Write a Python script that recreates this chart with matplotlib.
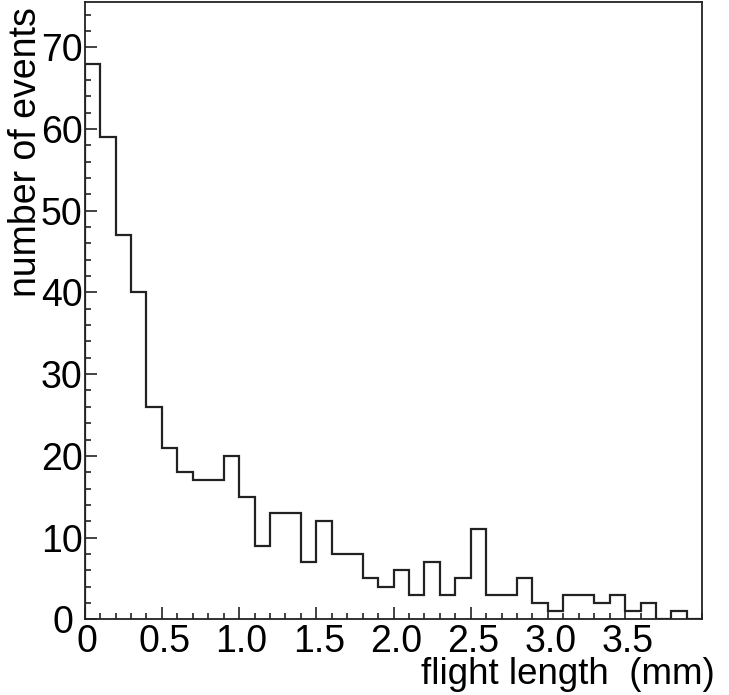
import matplotlib
matplotlib.use("Agg")
import matplotlib.pyplot as plt
from matplotlib.ticker import MultipleLocator, FixedLocator, FixedFormatter
from matplotlib.transforms import ScaledTranslation
import numpy as np

plt.rcParams['font.family'] = ['Liberation Sans', 'DejaVu Sans']

# Histogram data: 40 bins of 0.1 mm from 0 to 4.0 mm
bin_low = 0.0
bin_high = 4.0
n_bins = 40
counts = [68, 59, 47, 40, 26, 21, 18, 17, 17, 20,
          15, 9, 13, 13, 7, 12, 8, 8, 5, 4,
          6, 3, 7, 3, 5, 11, 3, 3, 5, 2,
          1, 3, 3, 2, 3, 1, 2, 0, 1, 0]
x_ticks = [0, 0.5, 1.0, 1.5, 2.0, 2.5, 3.0, 3.5]
x_tick_labels = ["0", "0.5", "1.0", "1.5", "2.0", "2.5", "3.0", "3.5"]
y_ticks = [0, 10, 20, 30, 40, 50, 60, 70]
y_tick_labels = ["0", "10", "20", "30", "40", "50", "60", "70"]
x_label = "flight length  (mm)"
y_label = "number of events"

edges = np.linspace(bin_low, bin_high, n_bins + 1)

fig = plt.figure(figsize=(7.29, 6.95), dpi=100)
ax = fig.add_axes([0.1162, 0.1089, 0.8472, 0.8878])
ax.stairs(counts, edges, baseline=0, color='#222222', linewidth=1.6)
ax.set_xlim(0, 4.0)
ax.set_ylim(0, 75.5)

ax.xaxis.set_major_locator(FixedLocator(x_ticks))
ax.xaxis.set_major_formatter(FixedFormatter(x_tick_labels))
ax.xaxis.set_minor_locator(MultipleLocator(0.1))
ax.yaxis.set_major_locator(FixedLocator(y_ticks))
ax.yaxis.set_major_formatter(FixedFormatter(y_tick_labels))
ax.yaxis.set_minor_locator(MultipleLocator(2))

ax.tick_params(which='both', direction='in', top=False, right=False,
               color='#222222', width=1.2)
ax.tick_params(which='major', length=8.5, labelsize=27)
ax.tick_params(which='minor', length=4.2)
ax.tick_params(axis='y', which='major', pad=1.5)
ax.tick_params(axis='x', which='major', pad=3.5)
for s in ax.spines.values():
    s.set_linewidth(1.3)
    s.set_color('#222222')

# ROOT-like label offsets
dx = ScaledTranslation(2.5 / 100, 0, fig.dpi_scale_trans)
for lbl in ax.get_xticklabels():
    lbl.set_transform(lbl.get_transform() + dx)
ylbls = ax.get_yticklabels()
ylbls[0].set_transform(ylbls[0].get_transform() + ScaledTranslation(-9 / 100, 0, fig.dpi_scale_trans))

fig.text(715 / 729, 1 - 692 / 695, x_label, ha='right', va='bottom', fontsize=26.5)
fig.text(8 / 729, 1 - 7 / 695, y_label, ha='left', va='top', rotation=90, fontsize=27)

fig.savefig("out.png", dpi=100)
